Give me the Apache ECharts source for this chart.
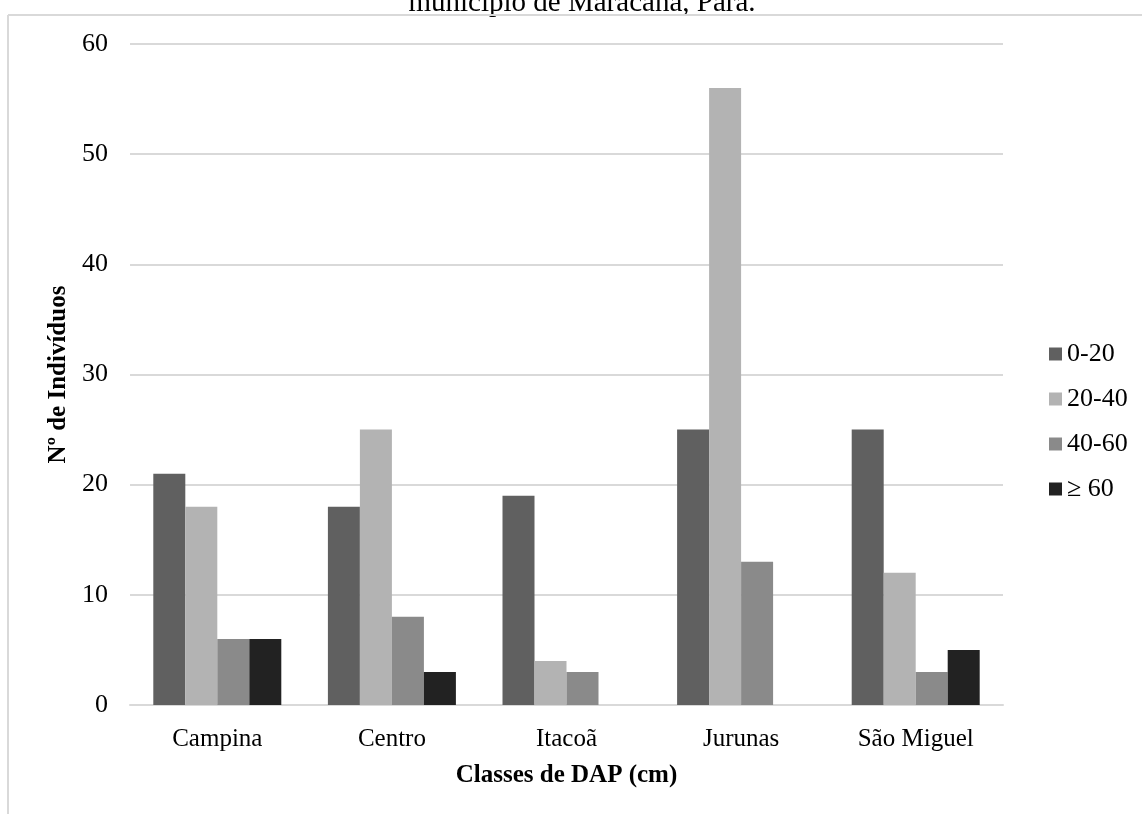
<!DOCTYPE html>
<html>
<head>
<meta charset="utf-8">
<script src="https://cdn.jsdelivr.net/npm/echarts@6/dist/echarts.min.js"></script>
<style>
  html, body { margin: 0; padding: 0; background: #fff; }
  #chart { width: 1142px; height: 814px; }
</style>
</head>
<body>
<div id="chart"></div>
<script>
// Bairros e número de indivíduos por classe de DAP
const categories = ['Campina', 'Centro', 'Itacoã', 'Jurunas', 'São Miguel'];
const seriesNames = ['0-20', '20-40', '40-60', '\u2265 60'];
const s0_20 = [21, 18, 19, 25, 25];
const s20_40 = [18, 25, 4, 56, 12];
const s40_60 = [6, 8, 3, 13, 3];
const s60 = [6, 3, 0, 0, 5];
const colors = ['#606060', '#b3b3b3', '#8a8a8a', '#222222'];

const font = '"Liberation Serif", "Times New Roman", serif';
const values = [s0_20, s20_40, s40_60, s60];

const chart = echarts.init(document.getElementById('chart'));
chart.setOption({
  animation: false,
  textStyle: { fontFamily: font },
  graphic: [
    { type: 'text', x: 582, y: 3, style: { text: 'município de Maracanã, Pará.', font: '29px ' + font, fill: '#000', align: 'center', verticalAlign: 'middle' } },
    { type: 'line', shape: { x1: 8, y1: 15, x2: 1142, y2: 15 }, style: { stroke: '#d9d9d9', lineWidth: 2 } },
    { type: 'line', shape: { x1: 8, y1: 15, x2: 8, y2: 814 }, style: { stroke: '#d9d9d9', lineWidth: 2 } }
  ],
  grid: { left: 130, right: 139, top: 44, bottom: 109, containLabel: false },
  legend: {
    orient: 'vertical',
    left: 1044,
    top: 336,
    itemWidth: 13,
    itemHeight: 13,
    itemGap: 19,
    icon: 'rect',
    textStyle: { fontFamily: font, fontSize: 26, color: '#000' },
    data: seriesNames
  },
  xAxis: {
    type: 'category',
    data: categories,
    name: 'Classes de DAP (cm)',
    nameLocation: 'middle',
    nameGap: 58,
    nameTextStyle: { fontFamily: font, fontSize: 25, fontWeight: 'bold', color: '#000' },
    axisLine: { lineStyle: { color: '#d9d9d9', width: 2 } },
    axisTick: { show: false },
    axisLabel: { fontFamily: font, fontSize: 25, color: '#000', margin: 22 }
  },
  yAxis: {
    type: 'value',
    min: 0,
    max: 60,
    interval: 10,
    name: 'Nº de Indivíduos',
    nameLocation: 'middle',
    nameGap: 58,
    nameTextStyle: { fontFamily: font, fontSize: 25, fontWeight: 'bold', color: '#000' },
    axisLine: { show: false },
    axisTick: { show: false },
    axisLabel: { fontFamily: font, fontSize: 26, color: '#000', margin: 22 },
    splitLine: { lineStyle: { color: '#d9d9d9', width: 2 } }
  },
  series: seriesNames.map((n, i) => ({
    name: n,
    type: 'bar',
    data: values[i],
    barWidth: 32,
    barGap: '0%',
    itemStyle: { color: colors[i] }
  }))
});
</script>
</body>
</html>
